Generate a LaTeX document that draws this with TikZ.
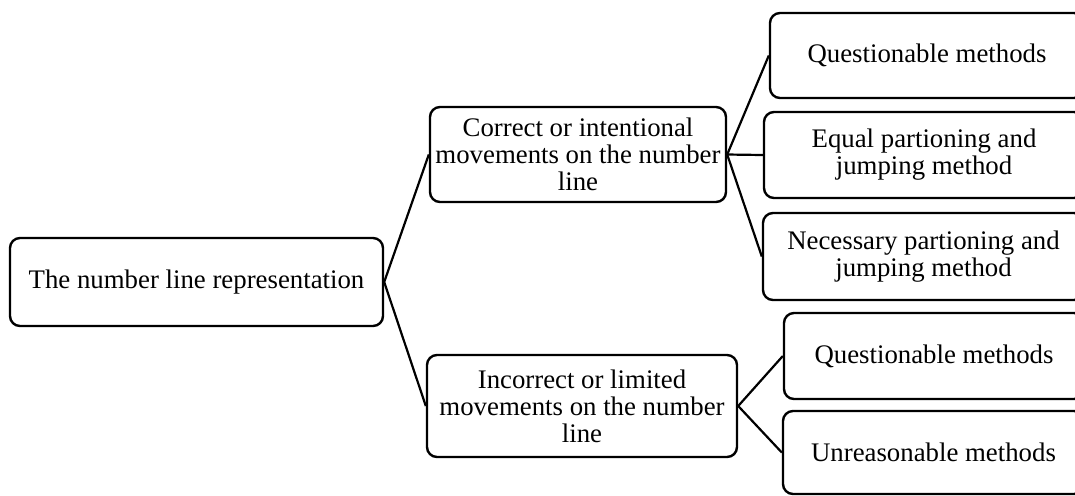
\documentclass[tikz,border=0pt]{standalone}
\usepackage{fontspec}
\setmainfont{Liberation Serif}
\usepackage{tikz}
\usetikzlibrary{positioning}

\begin{document}
\begin{tikzpicture}[
    x=0.5pt, y=-0.5pt,
    box/.style={draw, line width=1.2pt, rounded corners=5pt, align=center, inner sep=0pt,
        font=\fontsize{13.4}{13.5}\selectfont},
    link/.style={line width=1.1pt}
]
    \useasboundingbox (0,0) rectangle (1075,495);
    \clip (0,0) rectangle (1075,495);

    % === Root ===
    \node[box, minimum width=186.5pt, minimum height=44pt] (root) at (196.5,282)
        {The number line representation};

    % === Middle level ===
    \node[box, minimum width=148pt, minimum height=47.5pt] (correct) at (578,154.5)
        {Correct or intentional\\movements on the number\\line};
    \node[box, minimum width=155pt, minimum height=51pt] (incorrect) at (582,406)
        {Incorrect or limited\\movements on the number\\line};

    % === Right level (cut off by the page edge) ===
    \node[box, minimum width=157pt, minimum height=42.5pt] (questA) at (927,55.5)
        {Questionable methods};
    \node[box, minimum width=160pt, minimum height=43pt] (equal) at (924,155)
        {Equal partioning and\\jumping method};
    \node[box, minimum width=160.5pt, minimum height=43.5pt] (necessary) at (923.5,256.5)
        {Necessary partioning and\\jumping method};
    \node[box, minimum width=150pt, minimum height=43pt] (questB) at (934,356)
        {Questionable methods};
    \node[box, minimum width=150.5pt, minimum height=41.5pt] (unreasonable) at (933.5,452.5)
        {Unreasonable methods};

    % Connectors
    \draw[link] (root.east) -- (correct.west);
    \draw[link] (root.east) -- (incorrect.west);
    \draw[link] (correct.east) -- (questA.west);
    \draw[link] (correct.east) -- (equal.west);
    \draw[link] (correct.east) -- (necessary.west);
    \draw[link] (incorrect.east) -- (questB.west);
    \draw[link] (incorrect.east) -- (unreasonable.west);

\end{tikzpicture}
\end{document}
